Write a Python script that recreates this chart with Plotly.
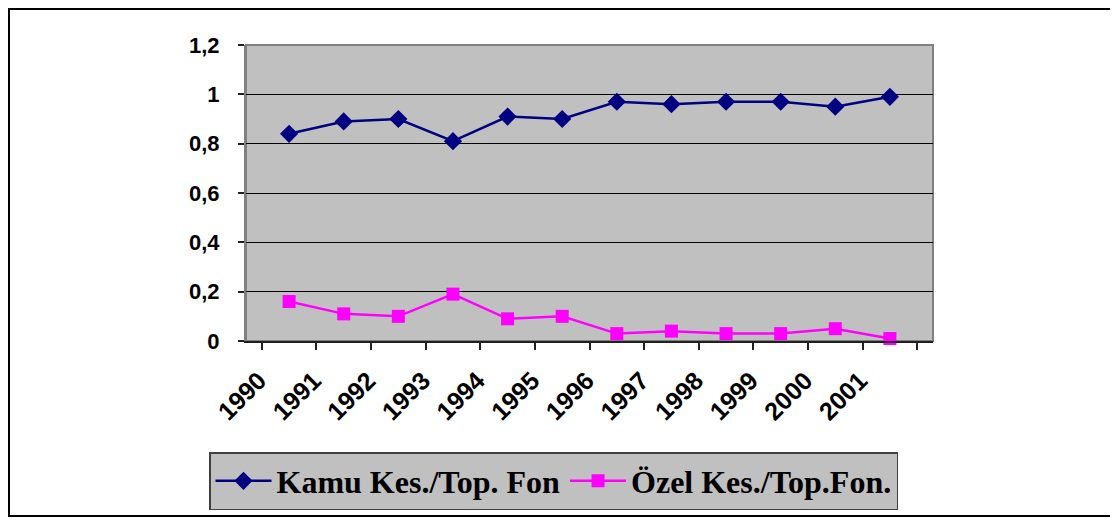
import plotly.graph_objects as go

# data
years = ['1990', '1991', '1992', '1993', '1994', '1995',
         '1996', '1997', '1998', '1999', '2000', '2001']
kamu = [0.84, 0.89, 0.90, 0.81, 0.91, 0.90, 0.97, 0.96, 0.97, 0.97, 0.95, 0.99]
ozel = [0.16, 0.11, 0.10, 0.19, 0.09, 0.10, 0.03, 0.04, 0.03, 0.03, 0.05, 0.01]

fig = go.Figure()
fig.add_trace(go.Scatter(x=years, y=kamu, mode='lines+markers', name='Kamu Kes./Top. Fon',
                         line=dict(color='#000080', width=2.5),
                         marker=dict(symbol='diamond', size=14, color='#000080'),
                         cliponaxis=False))
fig.add_trace(go.Scatter(x=years, y=ozel, mode='lines+markers', name='Özel Kes./Top.Fon.',
                         line=dict(color='#FF00FF', width=2.5),
                         marker=dict(symbol='square', size=13, color='#FF00FF'),
                         cliponaxis=False))

# the page puts the figure 8px in from the top-left corner
W, H = 1110, 510
L, R, T, B = 238, 185, 37, 177
pw, ph = W - L - R, H - T - B

def px_x(x):
    return (x - L) / pw

def px_y(y):
    return (H - B - y) / ph

# outer chart border
fig.add_shape(type='rect', xref='paper', yref='paper',
              x0=px_x(1), x1=px_x(1125), y0=px_y(508), y1=px_y(1),
              line=dict(color='black', width=2), layer='below')
# plot area border
fig.add_shape(type='rect', xref='paper', yref='paper', x0=0, x1=1, y0=0, y1=1,
              line=dict(color='#808080', width=2), layer='below')

fig.update_layout(
    width=W, height=H,
    margin=dict(l=L, r=R, t=T, b=B, autoexpand=False),
    paper_bgcolor='white',
    plot_bgcolor='#C0C0C0',
    separators=', ',
    showlegend=True,
    legend=dict(orientation='h', x=px_x(201), y=px_y(444), xanchor='left', yanchor='top',
                bgcolor='#C0C0C0', bordercolor='#404040', borderwidth=1.5,
                font=dict(family='Liberation Serif', size=32, color='black', weight='bold'),
                itemwidth=56, tracegroupgap=0),
)
fig.update_xaxes(type='category', tickson='boundaries', ticks='outside', ticklen=7,
                 tickcolor='#202020', tickwidth=1.5,
                 showline=True, linecolor='#202020', linewidth=2, showgrid=False,
                 tickangle=-45, ticklabelshift=-30, ticklabelstandoff=13,
                 tickfont=dict(family='Liberation Sans', size=25, color='black', weight='bold'))
fig.update_yaxes(range=[0, 1.2], dtick=0.2, ticks='outside', ticklen=6,
                 tickcolor='#202020', tickwidth=1.5,
                 showline=True, linecolor='#808080', linewidth=2,
                 showgrid=True, gridcolor='black', gridwidth=1, zeroline=False,
                 ticklabelstandoff=14,
                 tickfont=dict(family='Liberation Sans', size=22, color='black', weight='bold'))

fig.write_html('out.html')
